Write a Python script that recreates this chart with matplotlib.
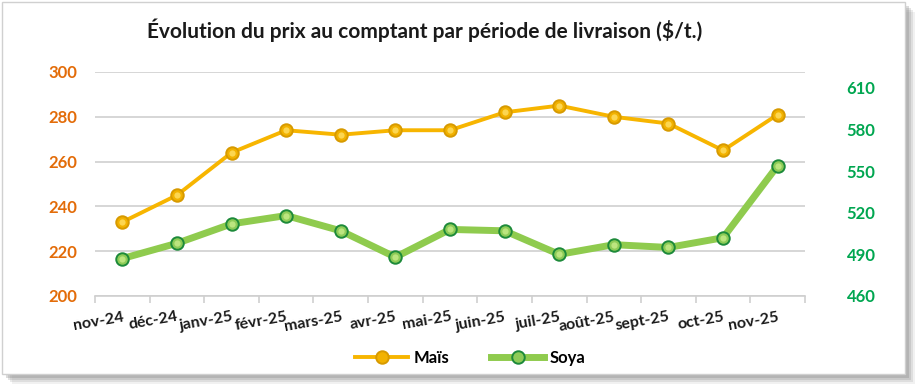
import numpy as np
import matplotlib
matplotlib.use("Agg")
import matplotlib.pyplot as plt
from matplotlib.patches import Rectangle
from matplotlib.lines import Line2D

plt.rcParams["font.family"] = ["Lato", "DejaVu Sans"]

months = ["nov-24", "déc-24", "janv-25", "févr-25", "mars-25", "avr-25", "mai-25",
          "juin-25", "juil-25", "août-25", "sept-25", "oct-25", "nov-25"]
mais = [233, 245, 264, 274, 272, 274, 274, 282, 285, 280, 277, 265, 281]
soya = [487, 498, 512, 518, 507, 488, 508, 507, 490, 497, 495, 502, 554]

left_ticks = [200, 220, 240, 260, 280, 300]
right_ticks = [460, 490, 520, 550, 580, 610]

MAIS_LINE = "#F7B500"
MAIS_FACE = "#F2B200"
MAIS_EDGE = "#D79A00"
SOYA_LINE = "#8FCB4E"
SOYA_FACE = "#8DCB57"
SOYA_EDGE = "#1D8A3A"
LEFT_COL = "#E36C09"
RIGHT_COL = "#00A650"

W, H = 924, 391
fig = plt.figure(figsize=(W / 100, H / 100), dpi=100)

# cadre avec ombre portée
for i, a in enumerate([0.10, 0.16, 0.22, 0.28]):
    off = 10 - 2 * i
    fig.patches.append(Rectangle(((2 + off) / W, 1 - (374 + off) / H), 903 / W, 372 / H,
                                 transform=fig.transFigure, facecolor="#7f7f7f",
                                 edgecolor="none", alpha=a, zorder=0))
fig.patches.append(Rectangle((2 / W, 1 - 374 / H), 903 / W, 372 / H,
                             transform=fig.transFigure, facecolor="white",
                             edgecolor="#d0d0d0", linewidth=1, zorder=1))

ax = fig.add_axes([95 / W, 1 - 296 / H, 710 / W, 224 / H])
ax.set_zorder(2)
ax.patch.set_visible(False)
ax2 = ax.twinx()

x = np.arange(len(months))


def glossy(axis, xs, ys, line_col, lw, face, edge, hi):
    axis.plot(xs, ys, color=line_col, lw=lw, solid_capstyle="round", zorder=3)
    axis.plot(xs, ys, ls="none", marker="o", ms=9, mfc=face, mec=edge, mew=1.4, zorder=4)
    axis.plot(xs, ys, ls="none", marker="o", ms=4.5, mfc=hi, mec="none", alpha=0.8, zorder=5)


glossy(ax, x, mais, MAIS_LINE, 2.8, MAIS_FACE, MAIS_EDGE, "#FFE066")
glossy(ax2, x, soya, SOYA_LINE, 5.0, SOYA_FACE, SOYA_EDGE, "#C8EC8A")

ax.set_xlim(-0.5, len(months) - 0.5)
ax.set_ylim(200, 300)
ax.set_yticks(left_ticks)
ax2.set_ylim(460, 621.5)
ax2.set_yticks(right_ticks)

ax.yaxis.grid(True, color="#d0d0d0", lw=1.2)
ax.set_axisbelow(True)

for a in (ax, ax2):
    for s in a.spines.values():
        s.set_visible(False)
ax.spines["bottom"].set_visible(True)
ax.spines["bottom"].set_color("#cfcfcf")
ax.spines["bottom"].set_linewidth(1.2)

ax.tick_params(axis="y", length=0, pad=13, labelsize=12, labelcolor=LEFT_COL)
ax2.tick_params(axis="y", length=0, pad=30, labelsize=12, labelcolor=RIGHT_COL)
for lab in ax.get_yticklabels():
    lab.set_fontweight("bold")
for lab in ax2.get_yticklabels():
    lab.set_fontweight("bold")

ax.set_xticks(x)
ax.set_xticklabels(months, rotation=10, fontsize=11.5, fontweight="bold", color="#1a1a1a",
                   ha="right", rotation_mode="anchor")
ax.tick_params(axis="x", which="major", length=0, pad=10)
ax.set_xticks(np.arange(-0.5, len(months)), minor=True)
ax.tick_params(axis="x", which="minor", length=5, color="#cfcfcf", width=1.2)

fig.text(425 / W, 1 - 30 / H, "Évolution du prix au comptant par période de livraison ($/t.)",
         ha="center", va="center", fontsize=15, fontweight="bold", color="#1a1a1a", zorder=3)

handles = [
    Line2D([], [], color=MAIS_LINE, lw=2.8, marker="o", ms=9, mfc=MAIS_FACE, mec=MAIS_EDGE, mew=1.4),
    Line2D([], [], color=SOYA_LINE, lw=5.0, marker="o", ms=9, mfc=SOYA_FACE, mec=SOYA_EDGE, mew=1.4),
]
leg = fig.legend(handles, ["Maïs", "Soya"], loc="center", bbox_to_anchor=(470 / W, 1 - 358 / H),
                 ncol=2, frameon=False, handlelength=3.2, columnspacing=2.5,
                 handletextpad=0.3, prop={"weight": "bold", "size": 12})

fig.savefig("out.png", dpi=100)
